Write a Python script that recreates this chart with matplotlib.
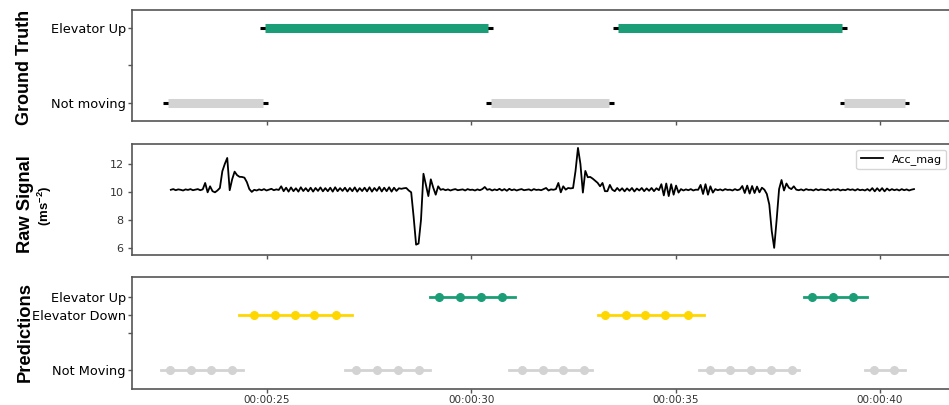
import numpy as np
import matplotlib
matplotlib.use("Agg")
import matplotlib.pyplot as plt
from matplotlib.ticker import FuncFormatter

# ground truth intervals (seconds)
gt_labels = ["Not moving", "Elevator Up", "Not moving", "Elevator Up", "Not moving"]
gt_start = [22.45, 24.84, 30.37, 33.47, 39.01]
gt_end = [25.02, 30.54, 33.49, 39.18, 40.72]
gt_ticks = [0, 0.5, 1]
gt_ticklabels = ["Not moving", "", "Elevator Up"]
gt_level = {"Not moving": 0, "Elevator Up": 1}

# raw accelerometer magnitude, sampled every 0.06 s from 22.65 s
acc_start = 22.65
acc_step = 0.06
acc_mag = [
    # quiet start
    10.15, 10.2, 10.12, 10.18, 10.15, 10.1, 10.18, 10.14, 10.2, 10.12, 10.16, 10.2, 10.12, 10.18,
    # elevator starts (up)
    10.64, 9.97, 10.4, 10.05, 9.97, 10.1, 10.28, 11.48, 12.0, 12.43, 10.12, 10.9, 11.45, 11.2,
    11.08, 11.07, 11.02, 10.7, 10.2, 10.0, 10.15,
    10.1, 10.18, 10.12, 10.2, 10.1, 10.16, 10.22, 10.12, 10.18, 10.14, 10.4,
    # riding
    10.05, 10.3, 10.02, 10.32, 10.05, 10.26, 10.02, 10.33, 10.06, 10.27,
    10.04, 10.3, 10.02, 10.28, 10.07, 10.32, 10.04, 10.27, 10.05, 10.3,
    10.02, 10.33, 10.05, 10.27, 10.07, 10.3, 10.03, 10.28, 10.05, 10.32,
    10.02, 10.27, 10.06, 10.3, 10.04, 10.33, 10.02, 10.28, 10.07, 10.35,
    10.03, 10.3, 10.05, 10.33, 10.02, 10.3, 10.07, 10.26, 10.22, 10.26,
    # stop
    10.28, 10.1, 9.97, 8.2, 6.22, 6.3, 8.0, 11.3, 10.5, 9.7, 10.9, 10.3, 9.8, 10.4, 10.15,
    10.2, 10.12, 10.18, 10.1, 10.16, 10.2, 10.12, 10.15, 10.18, 10.1,
    10.2, 10.14, 10.16, 10.1, 10.18, 10.12, 10.2, 10.35, 10.15, 10.2,
    10.1, 10.18, 10.12, 10.22, 10.1, 10.2, 10.08, 10.22, 10.12, 10.18,
    10.1, 10.16, 10.2, 10.12, 10.15, 10.18, 10.1, 10.2, 10.14, 10.16,
    10.12, 10.2, 10.28, 10.1, 10.18, 10.15, 10.2,
    # second start
    10.64, 9.97, 10.4, 10.16, 10.28, 10.25, 10.28, 11.5, 13.15, 12.0, 9.95, 11.5, 11.05, 11.07,
    10.95, 10.8, 10.65, 10.4, 10.64, 10.05, 10.05, 10.5, 10.16,
    10.05, 10.28, 10.08, 10.26, 10.04, 10.25, 10.08, 10.28, 10.03, 10.24, 10.1, 10.28, 10.05, 10.25,
    10.08, 10.28, 10.05, 10.26, 10.12,
    10.55, 9.75, 10.6, 9.7, 10.55, 9.8, 10.45, 9.95,
    10.2, 10.1, 10.18, 10.12, 10.2, 10.1, 10.16, 10.15,
    10.5, 9.85, 10.55, 9.8, 10.4, 9.95,
    10.2, 10.12, 10.18, 10.1, 10.2, 10.14, 10.16, 10.1, 10.2, 10.12, 10.18,
    10.42, 9.92, 10.45, 9.88, 10.42, 9.92, 10.38, 9.97, 10.3,
    # second stop
    10.16, 9.85, 9.1, 7.2, 5.99, 8.0, 10.2, 10.85, 10.1, 10.6, 10.3, 10.2, 10.4, 10.16,
    10.12, 10.18, 10.1, 10.2, 10.14, 10.16, 10.1, 10.2, 10.12, 10.18,
    10.15, 10.12, 10.2, 10.1, 10.18, 10.14, 10.2, 10.1, 10.16, 10.12,
    10.2, 10.14, 10.18, 10.1, 10.2, 10.12, 10.16, 10.1, 10.2, 10.08,
    10.27, 10.04, 10.26, 10.06, 10.27, 10.04, 10.24, 10.1, 10.2, 10.12,
    10.18, 10.1, 10.2, 10.12, 10.18, 10.1, 10.16, 10.2,
]
acc_t = acc_start + acc_step * np.arange(len(acc_mag))

# predicted segments (seconds) and window centres
pred_labels = ["Not Moving", "Elevator Down", "Not Moving", "Elevator Up", "Not Moving",
               "Elevator Down", "Not Moving", "Elevator Up", "Not Moving"]
pred_start = [22.42, 24.32, 26.92, 28.99, 30.93, 33.10, 35.57, 38.13, 39.62]
pred_end = [24.41, 27.09, 28.99, 31.06, 32.96, 35.69, 38.01, 39.67, 40.62]
pred_points = [
    [22.64, 23.14, 23.64, 24.15],
    [24.68, 25.19, 25.68, 26.16, 26.68],
    [27.19, 27.70, 28.20, 28.71],
    [29.22, 29.72, 30.24, 30.74],
    [31.24, 31.76, 32.25, 32.76],
    [33.27, 33.78, 34.26, 34.75, 35.30],
    [35.83, 36.32, 36.84, 37.32, 37.84],
    [38.33, 38.84, 39.35],
    [39.84, 40.35],
]
pred_ticks = [0, 0.5, 0.75, 1]
pred_ticklabels = ["Not Moving", "", "Elevator Down", "Elevator Up"]
pred_level = {"Not Moving": 0, "Elevator Down": 0.75, "Elevator Up": 1}

time_ticks = [25, 30, 35, 40]

colors = {"Elevator Up": "#1b9e77", "Elevator Down": "#ffd700",
          "Not moving": "#d3d3d3", "Not Moving": "#d3d3d3"}

plt.rcParams['mathtext.fontset'] = 'custom'
plt.rcParams['mathtext.bf'] = 'Liberation Sans:bold'
plt.rcParams['mathtext.rm'] = 'Liberation Sans'

fig = plt.figure(figsize=(9.49, 4.05), dpi=100)
W, H = 949.0, 405.0
left, right = 132 / W, 952 / W
ax1 = fig.add_axes([left, 1 - 121 / H, right - left, 111 / H])
ax2 = fig.add_axes([left, 1 - 255 / H, right - left, 111 / H])
ax3 = fig.add_axes([left, 1 - 389 / H, right - left, 112 / H])

spine_col = '#555555'
for ax in (ax1, ax2, ax3):
    for s in ax.spines.values():
        s.set_color(spine_col)
        s.set_linewidth(1.2)
    ax.set_xlim(21.7, 41.76)
    ax.set_xticks(time_ticks)
    ax.tick_params(color=spine_col, length=3, width=1, pad=1.5)

# ground truth bars
inset = 0.12
for lab, s, e in zip(gt_labels, gt_start, gt_end):
    y = gt_level[lab]
    ax1.plot([s, e], [y, y], color='black', lw=2.2, solid_capstyle='butt', zorder=2)
    ax1.plot([s + inset, e - inset], [y, y], color=colors[lab], lw=6.5,
             solid_capstyle='butt', zorder=3)
ax1.set_ylim(-0.24, 1.24)
ax1.set_yticks(gt_ticks)
ax1.set_yticklabels(gt_ticklabels, fontsize=9.3)
ax1.set_xticklabels([])

# raw signal
ax2.plot(acc_t, acc_mag, color='black', lw=1.3, label='Acc_mag')
ax2.set_ylim(5.48, 13.43)
ax2.set_yticks([6, 8, 10, 12])
ax2.tick_params(axis='y', labelsize=8, labelcolor='#333333', pad=3)
ax2.set_xticklabels([])
ax2.legend(loc='upper right', fontsize=8)

# predictions
for lab, s, e, pts in zip(pred_labels, pred_start, pred_end, pred_points):
    y = pred_level[lab]
    ax3.plot([s, e], [y, y], color=colors[lab], lw=2, zorder=2)
    ax3.plot(pts, [y] * len(pts), 'o', color=colors[lab], ms=5.5, zorder=3)
ax3.set_ylim(-0.26, 1.27)
ax3.set_yticks(pred_ticks)
ax3.set_yticklabels(pred_ticklabels, fontsize=9.3)
ax3.xaxis.set_major_formatter(FuncFormatter(lambda x, p: "00:00:%02d" % int(round(x))))
ax3.tick_params(axis='x', labelsize=7.5, labelcolor='#333333', pad=1)

# panel titles
fig.text(25 / W, 1 - 67 / H, "Ground Truth", rotation=90, ha='center', va='center',
         fontsize=13, fontweight='bold', family='Liberation Sans')
fig.text(25 / W, 1 - 204 / H, "Raw Signal", rotation=90, ha='center', va='center',
         fontsize=13.2, fontweight='bold', family='Liberation Sans')
fig.text(45 / W, 1 - 206 / H, r"(ms$^{\mathbf{-2}}$)", rotation=90, ha='center', va='center',
         fontsize=9.5, fontweight='bold', family='Liberation Sans')
fig.text(25 / W, 1 - 332 / H, "Predictions", rotation=90, ha='center', va='center',
         fontsize=13.2, fontweight='bold', family='Liberation Sans')

fig.savefig('out.png', dpi=100)
